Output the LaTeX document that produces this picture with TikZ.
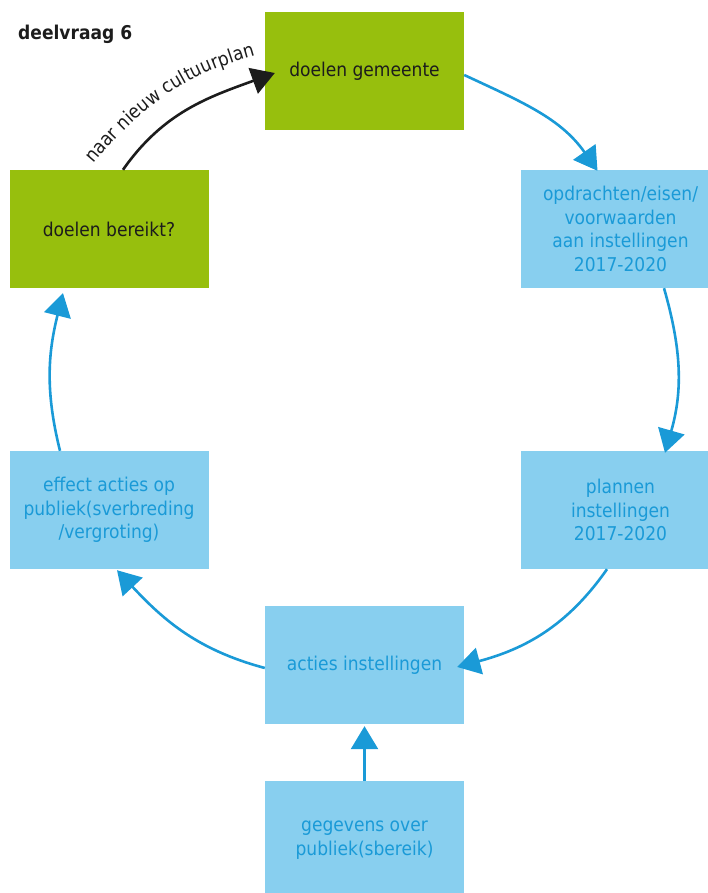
\documentclass[tikz,border=0pt]{standalone}
\usepackage{fontspec}
\setmainfont{DejaVu Sans Condensed}
\usetikzlibrary{arrows.meta,decorations.text}

\definecolor{leaf}{HTML}{97BF0D}
\definecolor{sky}{HTML}{88CFEF}
\definecolor{flow}{HTML}{1A9AD7}
\definecolor{ink}{HTML}{1C1C1C}

\begin{document}
\begin{tikzpicture}[x=1pt,y=1pt,
  box/.style={minimum width=199pt, minimum height=118pt, inner sep=0pt,
    align=center, font=\fontsize{19}{23.5}\selectfont},
  greenbox/.style={box, fill=leaf, text=ink},
  bluebox/.style={box, fill=sky, text=flow},
  tip/.style={-{Triangle[length=23pt,width=27pt]}},
  link/.style={draw=flow, line width=2.6pt, tip},
  backlink/.style={draw=ink, line width=2.6pt, tip},
]
\useasboundingbox (0,0) rectangle (708,893);
\clip (0,0) rectangle (708,893);

% title
\node[anchor=base west, inner sep=0pt, text=ink,
      font=\fontsize{19}{23}\selectfont\bfseries] (title) at (18,853) {deelvraag 6};

% process steps
\node[greenbox] (goals)   at (364.5,822) {doelen gemeente};
\node[bluebox]  (orders)  at (620.5,664) {opdrachten/eisen/\\voorwaarden\\aan instellingen\\2017-2020};
\node[bluebox]  (plans)   at (620.5,383) {plannen\\instellingen\\2017-2020};
\node[bluebox]  (actions) at (364.5,228) {acties instellingen};
\node[bluebox]  (data)    at (364.5,53)  {gegevens over\\publiek(sbereik)};
\node[bluebox]  (effect)  at (109,383)   {effect acties op\\publiek(sverbreding\\/vergroting)};
\node[greenbox] (reached) at (109,664)   {doelen bereikt?};

% cycle connectors
\draw[link] ([yshift=-4pt]goals.east) to[out=-25,in=125] ([xshift=-23pt,yshift=-1pt]orders.north);
\draw[link] ([xshift=43.5pt]orders.south) to[out=-74,in=74] ([xshift=44.5pt,yshift=-2pt]plans.north);
\draw[link] ([xshift=-13.5pt]plans.south) to[out=-125,in=15] ([xshift=-7pt,yshift=-2pt]actions.east);
\draw[link] (data.north) -- ([yshift=-2pt]actions.south);
\draw[link] ([yshift=-3pt]actions.west) to[out=165,in=-47] ([xshift=8pt,yshift=-1pt]effect.south);
\draw[link] ([xshift=-49pt]effect.north) to[out=104,in=-104] ([xshift=-46pt,yshift=-5pt]reached.south);
\draw[backlink] ([xshift=14pt]reached.north) to[out=55,in=200] ([xshift=10pt,yshift=-2pt]goals.west);

% label along the return arrow
\coordinate (lblA) at (92,727);
\coordinate (lblB) at (258,838);
\path[decorate, decoration={text along path, text align=center,
  text={|\fontsize{19}{23}\selectfont\color{ink}|naar nieuw cultuurplan}}]
  (lblA) to[out=50,in=195] (lblB);
\end{tikzpicture}
\end{document}
